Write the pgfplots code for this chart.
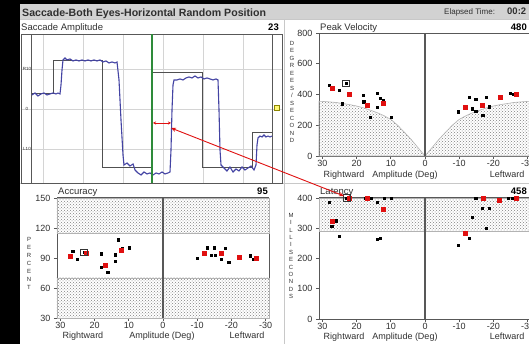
\documentclass[border=0pt]{standalone}
\usepackage{pgfplots}
\pgfplotsset{compat=1.18}
\usetikzlibrary{patterns,arrows.meta}
\usepackage{fontspec}
\setmainfont{Liberation Sans}
\definecolor{titlegray}{HTML}{D2D2D2}
\definecolor{axgray}{HTML}{585858}
\definecolor{labgray}{HTML}{303030}
\definecolor{gridgray}{HTML}{D4D4D4}
\definecolor{sepgray}{HTML}{C8C8C8}
\definecolor{tracecol}{HTML}{4343A3}
\definecolor{targcol}{HTML}{505050}
\definecolor{greenc}{HTML}{2E8B3A}
\definecolor{redc}{HTML}{E01010}
\definecolor{hatchc}{HTML}{808080}
\pgfplotsset{
 panel/.style={
  scale only axis, x dir=reverse, xmin=-31, xmax=31,
  axis line style={draw=axgray, line width=0.9pt},
  tick style={draw=axgray, line width=0.8pt},
  major tick length=3pt, tick align=outside,
  xtick={30,20,10,0,-10,-20,-30},
  xticklabels={30,20,10,0,-10,-20,-30},
  ticklabel style={font=\fontsize{9}{9.5}\selectfont, text=labgray},
  xticklabel style={inner sep=0.6pt},
  /pgf/number format/assume math mode=true,
  xtick pos=left, ytick pos=left,
  clip=false, anchor=south west,
 },
 hatch/.style={draw=hatchc!60, line width=0.6pt, pattern=crosshatch dots, pattern color=hatchc},
 zeroline/.style={draw=axgray, line width=1.2pt},
 blackpt/.style={only marks, mark=square*, mark size=1.1pt, mark options={fill=black, draw=black}},
 redpt/.style={only marks, mark=square*, mark size=2pt, mark options={fill=redc, draw=redc}},
 boxpt/.style={only marks, mark=square, mark size=3.3pt, mark options={draw=black!80, line width=0.8pt}},
}
\begin{document}
\begin{tikzpicture}[x=1pt,y=1pt]
\useasboundingbox (0,0) rectangle (529,344);
\clip (0,0) rectangle (529,344);
\fill[black] (0,0) rectangle (529,344);
\fill[white] (20,0) rectangle (529,325);
\fill[titlegray] (20,325) rectangle (529,340);
\draw[sepgray, line width=0.8pt] (20,325) -- (529,325);
\draw[sepgray, line width=1pt] (284,0) -- (284,325);
\draw[sepgray, line width=1pt] (20,160) -- (529,160);

% ---------------- Saccade amplitude ----------------
\begin{axis}[scale only axis, width=261pt, height=149pt, at={(21pt,161pt)}, anchor=south west,
  xmin=21, xmax=282, ymin=-18.5, ymax=18.75,
  xtick={43,83,123,163,203,243}, ytick={-10,0,10},
  xticklabels={}, yticklabels={}, major tick length=0pt,
  grid=major, grid style={draw=gridgray, line width=0.7pt},
  axis line style={draw=axgray, line width=0.9pt}]
\addplot[draw=axgray, line width=1pt] coordinates {(32,-18.5)(32,18.75)};
\addplot[draw=axgray, line width=1pt] coordinates {(272,-18.5)(272,18.75)};
\addplot[draw=targcol, line width=1pt] coordinates {(32,3.75)(53,3.75)(53,12)(102,12)(102,-14.75)(152,-14.75)(152,9)(202,9)(202,-14.75)(252,-14.75)(252,-6)(272,-6)};
\addplot[draw=tracecol, line width=1.1pt] coordinates {
(32,3.5)(35,4)(38,3.25)(41,3.75)(44,4)(47,3.5)(50,3.75)(53,4)(56,3.75)(58,4)(60,3.75)
(61,6)(62,9.75)(63,12.25)(65,12.75)(67,12.25)(70,12.5)(73,12)(76,12.25)(79,12)(82,12.25)
(85,12)(88,12.25)(91,12)(94,12.25)(97,12)(100,12.25)(103,11.75)(106,12)(109,11.5)(112,11.75)
(115,11.5)(117,11.75)(119,7.25)(121,-2.75)(123,-11.5)(124,-14)(127,-13.5)(130,-14.25)(133,-13.75)
(135,-15.25)(138,-16)(141,-16.5)(144,-15.75)(147,-16.25)(150,-16)(153,-16.5)(156,-16)(159,-16.25)
(162,-15.75)(165,-16.25)(168,-16)(170,-15.75)(171,-10.25)(172,-0.25)(173,6)(174,7.25)(177,7.25)
(180,7.5)(183,7.25)(186,7.75)(189,8)(192,7.75)(195,8.25)(198,7.75)(201,8)(204,7.5)(207,7.75)
(210,7.5)(213,7.25)(216,7.5)(218,7.25)(219,-0.25)(220,-10.25)(221,-14)(224,-14.75)(227,-15.5)
(230,-14.5)(233,-15.75)(236,-15)(239,-15.5)(242,-14.5)(245,-15.25)(248,-14.75)(251,-14.25)
(254,-15.25)(256,-14)(257,-9)(258,-7.25)(260,-6.75)(262,-7)(264,-6.5)(266,-7)(268,-6.75)(270,-7)(272,-6.75)};
\addplot[draw=greenc, line width=1.3pt] coordinates {(152,-18.5)(152,18.75)};
\draw[redc, line width=0.8pt, {Stealth[length=3pt,width=3pt]}-{Stealth[length=3pt,width=3pt]}] (axis cs:153,-3.5) -- (axis cs:171,-3.5);
\end{axis}
\node[font=\fontsize{4.5}{5}\selectfont, text=labgray] at (27,275) {R10};
\node[font=\fontsize{4.5}{5}\selectfont, text=labgray] at (27,235) {0};
\node[font=\fontsize{4.5}{5}\selectfont, text=labgray] at (27,195) {L10};
\node[draw=olive, line width=0.6pt, fill=yellow!55, minimum size=5pt, inner sep=0pt] at (277,236) {};

% ---------------- Peak velocity ----------------
\begin{axis}[panel, width=212pt, height=123pt, at={(319pt,188pt)},
  ymin=0, ymax=800, ytick={0,200,400,600,800}]
\addplot[hatch] coordinates {(31,0)(31,356)(30,355)(28,352)(26,348)(24,341)(22,334)(20,325)(18,313)(16,298)(14,282)(12,262)(10,238)(8,200)(6,154)(4,106)(2,53)(0,0)(-2,53)(-4,106)(-6,154)(-8,200)(-10,238)(-12,262)(-14,282)(-16,298)(-18,313)(-20,325)(-22,334)(-24,341)(-26,348)(-28,352)(-30,355)(-31,356)(-31,0)} -- cycle;
\addplot[zeroline] coordinates {(0,0)(0,800)};
\addplot[blackpt] coordinates {(28,460)(26.8,447)(25.2,428)(24.1,340)(18,397)(17.9,353)(16.1,251)(14,408)(14,316)(13.2,375)(12.2,360)(10,251)(-9.8,288)(-12.9,381)(-13.7,307)(-14.8,371)(-14.8,292)(-16.9,266)(-18,381)(-18.8,320)(-24.9,410)(-25.7,403)(23.1,473)};
\addplot[redpt] coordinates {(27,443)(22.1,403)(17,331)(12.1,344)(-11.9,320)(-16.7,331)(-22,381)(-26.8,403)};
\addplot[boxpt] coordinates {(23.1,473)};
\end{axis}

% ---------------- Accuracy ----------------
\begin{axis}[panel, width=212pt, height=120pt, at={(57pt,26pt)},
  ymin=30, ymax=150, ytick={30,60,90,120,150}]
\addplot[hatch] coordinates {(31,115)(-31,115)(-31,150)(31,150)} -- cycle;
\addplot[hatch] coordinates {(31,30)(-31,30)(-31,70)(31,70)} -- cycle;
\addplot[zeroline] coordinates {(0,30)(0,150)};
\addplot[draw=axgray, line width=1pt] coordinates {(31,150)(-31,150)};
\addplot[blackpt] coordinates {(27.5,93)(26.4,96.7)(25.1,89)(18.1,94.3)(18,81)(16.2,75.7)(14,93.3)(14,86.7)(13.1,108.3)(12,100)(10,100.3)(-10,89.7)(-13,100.3)(-14,93)(-15.2,93)(-15,100.3)(-17,89)(-18.2,100)(-19.2,85.7)(-25.4,92.3)(-26.5,89)(23.1,95.7)};
\addplot[redpt] coordinates {(27.2,91.7)(22.4,95)(16.9,82.7)(12.1,97.3)(-12.1,94.3)(-17,94.3)(-22.2,91)(-27.2,89.7)};
\addplot[boxpt] coordinates {(23.1,95.7)};
\end{axis}

% ---------------- Latency ----------------
\begin{axis}[panel, width=212pt, height=121pt, at={(319pt,25pt)},
  ymin=0, ymax=400, ytick={0,100,200,300,400}]
\addplot[hatch] coordinates {(31,290)(-31,290)(-31,400)(31,400)} -- cycle;
\addplot[zeroline] coordinates {(0,0)(0,400)};
\addplot[draw=axgray, line width=1pt] coordinates {(31,400)(-31,400)};
\addplot[blackpt] coordinates {(28,386)(27.3,308)(26.1,325)(25.1,273)(17.6,400)(15.9,400)(14,386)(14,264)(13,267)(12,400)(10,400)(-9.8,245)(-12.9,267)(-13.7,336)(-14.8,400)(-16.8,367)(-17.8,300)(-18.8,367)(-22,390)(-24.4,400)(-25.4,400)(22.9,400)};
\addplot[redpt] coordinates {(27,323)(22.1,400)(16.9,400)(12.1,364)(-11.9,282)(-16.9,400)(-21.8,392)(-26.8,400)};
\addplot[boxpt] coordinates {(22.9,400)};
\end{axis}

% ---------------- texts ----------------
\node[anchor=base west, inner sep=0pt, text=labgray, font=\bfseries\fontsize{10.6}{12}\selectfont] at (22,327.5) {Saccade-Both Eyes-Horizontal Random Position};
\node[anchor=base west, inner sep=0pt, text=labgray, font=\fontsize{8}{9}\selectfont] at (444,329) {Elapsed Time:};
\node[anchor=base west, inner sep=0pt, text=labgray, font=\bfseries\fontsize{9.5}{10}\selectfont] at (507,329) {00:2};
\tikzset{hdr/.style={inner sep=0pt, text=labgray, font=\fontsize{9.5}{10}\selectfont}}
\tikzset{num/.style={anchor=base east, inner sep=0pt, text=black, font=\bfseries\fontsize{9.5}{10}\selectfont}}
\node[hdr, anchor=base west] at (21,313.5) {Saccade Amplitude};
\node[num] at (279,313.5) {23};
\node[hdr, anchor=base west] at (320,313.5) {Peak Velocity};
\node[num] at (527,313.5) {480};
\node[hdr, anchor=base west] at (58,149) {Accuracy};
\node[num] at (268,149) {95};
\node[hdr, anchor=base west] at (320,149) {Latency};
\node[num] at (527,149) {458};
\tikzset{stk/.style={align=center, inner sep=0pt, text=labgray, font=\fontsize{6}{7.5}\selectfont}}
\node[stk] at (292,252) {D\\E\\G\\R\\E\\E\\S\\/\\S\\E\\C\\O\\N\\D};
\node[stk, font=\fontsize{6}{8}\selectfont] at (29,81) {P\\E\\R\\C\\E\\N\\T};
\node[stk, font=\fontsize{6}{7.4}\selectfont] at (291,88) {M\\I\\L\\L\\I\\S\\E\\C\\O\\N\\D\\S};
\tikzset{xl/.style={anchor=base, inner sep=0pt, text=labgray, font=\fontsize{9}{10}\selectfont}}
\node[xl] at (344,166) {Rightward};
\node[xl] at (405,166) {Amplitude (Deg)};
\node[xl] at (507,166) {Leftward};
\node[xl] at (83,5) {Rightward};
\node[xl] at (162,5) {Amplitude (Deg)};
\node[xl] at (247,5) {Leftward};
\node[xl] at (344,4) {Rightward};
\node[xl] at (405,4) {Amplitude (Deg)};
\node[xl] at (507,4) {Leftward};
\draw[redc, line width=0.9pt, {Stealth[length=5pt,width=4pt]}-{Stealth[length=5pt,width=4pt]}] (171,216) -- (344,148);
\end{tikzpicture}
\end{document}
